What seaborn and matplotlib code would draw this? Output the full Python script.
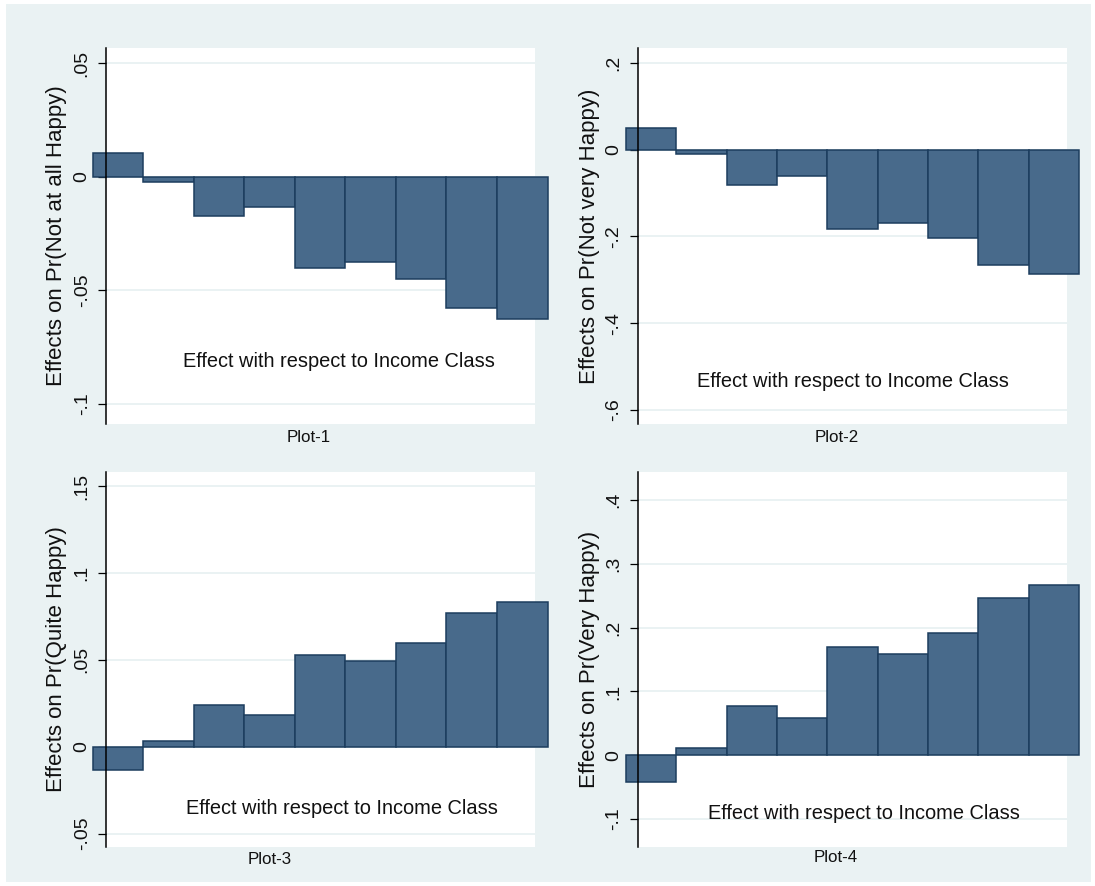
import matplotlib
matplotlib.use("Agg")
import matplotlib.pyplot as plt
from matplotlib import font_manager
from matplotlib.patches import Rectangle
import seaborn as sns

# ---- data: marginal effects of income class on each happiness outcome ----
income_class = ["1", "2", "3", "4", "5", "6", "7", "8", "9"]

not_at_all_happy = [0.0107, -0.0021, -0.0172, -0.0134, -0.0400, -0.0373, -0.0448, -0.0576, -0.0625]
not_very_happy = [0.0488, -0.0111, -0.0818, -0.0611, -0.1832, -0.1701, -0.2031, -0.2661, -0.2861]
quite_happy = [-0.0133, 0.0036, 0.0241, 0.0182, 0.0529, 0.0496, 0.0596, 0.0768, 0.0832]
very_happy = [-0.0424, 0.0115, 0.0769, 0.0586, 0.1705, 0.1595, 0.1914, 0.2469, 0.2667]

ylabels = ["Effects on Pr(Not at all Happy)", "Effects on Pr(Not very Happy)",
           "Effects on Pr(Quite Happy)", "Effects on Pr(Very Happy)"]
panel_names = ["Plot-1", "Plot-2", "Plot-3", "Plot-4"]
note_text = "Effect with respect to Income Class"

yticks = [[-0.1, -0.05, 0, 0.05],
          [-0.6, -0.4, -0.2, 0, 0.2],
          [-0.05, 0, 0.05, 0.1, 0.15],
          [-0.1, 0, 0.1, 0.2, 0.3, 0.4]]
ytick_labels = [["-.1", "-.05", "0", ".05"],
                ["-.6", "-.4", "-.2", "0", ".2"],
                ["-.05", "0", ".05", ".1", ".15"],
                ["-.1", "0", ".1", ".2", ".3", ".4"]]
ylims = [(-0.1088, 0.0567), (-0.6325, 0.2339), (-0.0575, 0.1583), (-0.1436, 0.4448)]

# ---- styling ----
W, H = 1095, 886
BG = "#eaf2f3"
BAR_FILL = "#486a8b"
BAR_EDGE = "#1c3d5e"
TEXT = "#111111"

sns.set_theme(style="white")
available = {f.name for f in font_manager.fontManager.ttflist}
narrow = "Liberation Sans Narrow" in available
plt.rcParams["font.family"] = ["Liberation Sans", "DejaVu Sans"]
narrow_family = ["Liberation Sans Narrow", "Liberation Sans"] if narrow else ["Liberation Sans", "DejaVu Sans"]
note_size = 17.5 if narrow else 14.4
panel_size = 14.8 if narrow else 12.2

fig = plt.figure(figsize=(W / 100, H / 100), dpi=100)
fig.patch.set_facecolor("white")
fig.patches.append(Rectangle((6 / W, 1 - 882 / H), (1091 - 6) / W, (882 - 4) / H,
                             transform=fig.transFigure, facecolor=BG, edgecolor="none",
                             zorder=-1))

# plot-region boxes in pixels: left, top, right, bottom
boxes = [(106, 48, 534.6, 424), (637.7, 48, 1067.4, 424),
         (106, 471.7, 534.6, 846.7), (637.7, 471.7, 1067.4, 846.7)]
# horizontal extent of the bar run in pixels
bar_spans = [(92.9, 547.5), (626.0, 1079.1), (92.9, 547.5), (626.0, 1079.1)]
ylabel_x = [56.4, 589, 56.4, 589]
panel_x = [309, 837, 270, 835.6]
panel_y = [438, 438, 859, 858]
note_xy = [(339, 361.7), (853, 381.7), (342, 808.3), (863.5, 813.3)]

series = [not_at_all_happy, not_very_happy, quite_happy, very_happy]

for i, vals in enumerate(series):
    l, t, r, b = boxes[i]
    ax = fig.add_axes([l / W, 1 - b / H, (r - l) / W, (b - t) / H])
    ax.set_facecolor("white")
    sns.barplot(x=income_class, y=vals, order=income_class, color=BAR_FILL,
                saturation=1, width=1.0, edgecolor=BAR_EDGE, linewidth=1.1, ax=ax)
    for p in ax.patches:
        p.set_clip_on(False)

    # bars extend slightly past the plot region on both sides
    bl, br = bar_spans[i]
    unit = (br - bl) / len(vals)
    ax.set_xlim(-0.5 + (l - bl) / unit, -0.5 + (r - bl) / unit)
    ax.set_ylim(*ylims[i])

    ax.set_axisbelow(True)
    ax.set_yticks(yticks[i])
    ax.set_yticklabels(ytick_labels[i], rotation=90, va="center", fontsize=14, color=TEXT)
    ax.yaxis.grid(True, color=BG, linewidth=1.4)
    ax.xaxis.grid(False)
    ax.set_xticks([])
    ax.tick_params(axis="y", direction="out", length=5.5, width=0.9, color="black", pad=5.5,
                   left=True)

    for side in ["top", "right", "bottom"]:
        ax.spines[side].set_visible(False)
    ax.spines["left"].set_color("black")
    ax.spines["left"].set_linewidth(1.1)
    ax.spines["left"].set_zorder(3)

    ax.set_ylabel(ylabels[i], fontsize=16, color=TEXT, va="center")
    ax.yaxis.set_label_coords((ylabel_x[i] - l) / (r - l), (b - (t + b) / 2) / (b - t))

    ax.set_xlabel(panel_names[i], fontsize=panel_size, color=TEXT, va="center",
                  family=narrow_family)
    ax.xaxis.set_label_coords((panel_x[i] - l) / (r - l), (b - panel_y[i]) / (b - t))

    nx, ny = note_xy[i]
    fig.text(nx / W, 1 - ny / H, note_text, ha="center", va="center",
             fontsize=note_size, color=TEXT, family=narrow_family)

fig.savefig("out.png", dpi=100, facecolor=fig.get_facecolor())
